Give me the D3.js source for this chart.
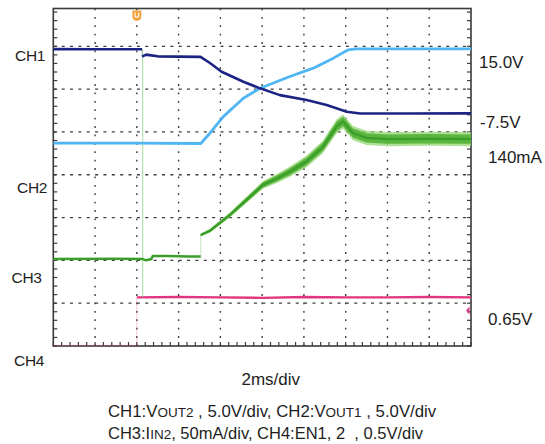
<!DOCTYPE html>
<html><head><meta charset="utf-8">
<script src="https://cdn.jsdelivr.net/npm/d3@7"></script>
<style>
html,body{margin:0;padding:0;background:#fff;}
svg{display:block;font-family:"Liberation Sans",Arial,Helvetica,sans-serif;}
text{white-space:pre;}
</style></head><body>
<svg id="c" width="545" height="444"></svg>
<script>
// ---------------- data ----------------
const timeDomainMs = [-4, 16];          // 10 divisions, 2 ms/div, trigger at 0
const xDivisions = d3.range(0, 11);
const yDivisions = d3.range(0, 9);

// CH1: VOUT2 (V), 5 V/div
const ch1TimeMs = [-4, -2, 0.25, 0.25, 0.45, 0.6, 1.0, 2.0, 3.05, 3.5, 4.06, 5.10, 5.90, 6.85, 8.13, 9.09, 10.05, 10.69, 13, 16];
const ch1Volts  = [0.02, 0, 0.01, -0.85, -0.62, -0.68, -0.82, -0.86, -0.88, -1.6, -2.62, -3.79, -4.56, -5.35, -5.93, -6.51, -7.30, -7.49, -7.5, -7.48];

// CH2: VOUT1 (V), 5 V/div
const ch2TimeMs = [-4, 0, 3.06, 3.5, 4.14, 5.10, 5.90, 7.33, 8.45, 9.41, 10.12, 10.5, 13, 16];
const ch2Volts  = [4.0, 4.0, 3.95, 5.15, 7.09, 9.24, 10.41, 11.77, 12.75, 13.92, 14.89, 15.0, 15.0, 15.0];

// CH3: IIN2 (mA), 50 mA/div
const ch3TimeMs    = [-4, -1, 0.28, 0.45, 0.7, 0.76, 1.5, 2.5, 3.06, 3.06, 3.5, 4.46, 5.2, 6.04, 6.7, 7.33, 8.13, 8.91, 9.57, 9.87, 10.35, 11.0, 12, 14, 16];
const ch3MilliAmps = [0, 0.3, 0, -1.5, 0, 3.5, 3.5, 3, 3, 28, 33, 51.5, 68, 86.5, 94, 102, 114, 131, 155, 160.6, 147, 141.5, 140, 140.5, 140];
const ch3NoiseMa   = [1, 1, 1, 1, 1, 1, 1, 1, 1, 1.2, 1.5, 2, 2.5, 3, 3.5, 4, 4.5, 5, 5.5, 5.5, 5.5, 5.5, 5.5, 5.5, 5.5];
const ch3SpikeTimeMs = 0.28;
const ch3SpikeMa = [245, -45];

// CH4: EN1,2 (V), 0.5 V/div
const ch4TimeMs = [-4, 0, 0, 2, 4, 6, 8, 10, 12, 14, 16];
const ch4Volts  = [0, 0, 0.65, 0.655, 0.65, 0.645, 0.655, 0.65, 0.65, 0.655, 0.65];

const channelLabels = ["CH1", "CH2", "CH3", "CH4"];
const levelLabels = ["15.0V", "-7.5V", "140mA", "0.65V"];
const timebaseLabel = "2ms/div";

// ---------------- layout ----------------
const svg = d3.select("#c");
const L = 53.3, R = 471, T = 8.5, B = 346;
const x = d3.scaleLinear().domain(timeDomainMs).range([L, R]);
const xDiv = d3.scaleLinear().domain([0, 10]).range([L, R]);
const yDiv = d3.scaleLinear().domain([0, 8]).range([B, 3.5]);

function chScale(perDiv, groundDiv) {
  return d3.scaleLinear().domain([0, perDiv]).range([yDiv(groundDiv), yDiv(groundDiv + 1)]);
}
const y1 = chScale(5, 6.93);
const y2 = chScale(5, 3.94);
const y3 = chScale(50, 2.032);
const y4 = chScale(0.5, -0.165);

const gridColor = "#3c3c3c";

// gridlines
const g = svg.append("g");
g.selectAll(".vg").data(xDivisions.slice(1, -1)).join("line")
  .attr("x1", d => xDiv(d)).attr("x2", d => xDiv(d))
  .attr("y1", T).attr("y2", B)
  .attr("stroke", gridColor).attr("stroke-width", 1.4)
  .attr("stroke-dasharray", "1.8,6.6");
g.selectAll(".hg").data(yDivisions.slice(1, -1)).join("line")
  .attr("x1", L).attr("x2", R)
  .attr("y1", d => yDiv(d)).attr("y2", d => yDiv(d))
  .attr("stroke", gridColor).attr("stroke-width", 1.3)
  .attr("stroke-dasharray", "3,5.36");

// minor ticks on frame
const minorY = d3.range(0, 8.01, 0.2).filter(d => yDiv(d) > T + 2);
const minorX = d3.range(0, 10.01, 0.2);
g.selectAll(".tl").data(minorY).join("line")
  .attr("x1", L).attr("x2", L + 4).attr("y1", d => yDiv(d)).attr("y2", d => yDiv(d))
  .attr("stroke", gridColor).attr("stroke-width", 1.2);
g.selectAll(".tr").data(minorY).join("line")
  .attr("x1", R).attr("x2", R - 4).attr("y1", d => yDiv(d)).attr("y2", d => yDiv(d))
  .attr("stroke", gridColor).attr("stroke-width", 1.2);
g.selectAll(".tb").data(minorX).join("line")
  .attr("x1", d => xDiv(d)).attr("x2", d => xDiv(d)).attr("y1", B).attr("y2", B - 4)
  .attr("stroke", gridColor).attr("stroke-width", 1.2);

// frame
svg.append("rect").attr("x", L).attr("y", T).attr("width", R - L).attr("height", B - T)
  .attr("fill", "none").attr("stroke", "#3a3a3a").attr("stroke-width", 1.6);

// ---------------- traces ----------------
const clampY = v => Math.max(T + 1, Math.min(B - 0.5, v));
const lineGen = d3.line();

function drawTrace(times, vals, ys, color, width) {
  const pts = times.map((t, i) => [x(t), clampY(ys(vals[i])), ys(vals[i]) !== clampY(ys(vals[i]))]);
  const segs = []; const jumps = [];
  let seg = [pts[0]];
  for (let i = 1; i < pts.length; i++) {
    if (times[i] === times[i - 1]) { segs.push(seg); jumps.push([pts[i - 1], pts[i]]); seg = [pts[i]]; }
    else seg.push(pts[i]);
  }
  segs.push(seg);
  svg.append("g").selectAll("path").data(jumps).join("path")
    .attr("d", lineGen).attr("fill", "none").attr("stroke", color)
    .attr("stroke-width", 1).attr("opacity", 0.28);
  svg.append("g").selectAll("path").data(segs).join("path")
    .attr("d", lineGen).attr("fill", "none").attr("stroke", color)
    .attr("stroke-width", s => s.every(p => p[2]) ? 1 : width)
    .attr("opacity", s => s.every(p => p[2]) ? 0.35 : 1)
    .attr("stroke-linejoin", "round");
}

// CH4
drawTrace(ch4TimeMs, ch4Volts, y4, "#e0357f", 2.4);

// CH3 spike (faint)
svg.append("path")
  .attr("d", lineGen(ch3SpikeMa.map(v => [x(ch3SpikeTimeMs), clampY(y3(v))])))
  .attr("stroke", "#7fcf78").attr("stroke-width", 1).attr("opacity", 0.7).attr("fill", "none");

// CH3 noise band
const ch3Pts = ch3TimeMs.map((t, i) => ({t, v: ch3MilliAmps[i], n: ch3NoiseMa[i], i}));
const bandPts = ch3Pts.filter((p, i) => i >= 9);
const area = k => d3.area().x(p => x(p.t)).y0(p => y3(p.v - p.n * k)).y1(p => y3(p.v + p.n * k));
svg.append("path").attr("d", area(1.5)(bandPts)).attr("fill", "#93d673").attr("opacity", 0.75);
svg.append("path").attr("d", area(1.0)(bandPts)).attr("fill", "#5ab63e");
drawTrace(ch3TimeMs, ch3MilliAmps, y3, "#3c9e2a", 2.4);

// CH2, CH1
drawTrace(ch2TimeMs, ch2Volts, y2, "#4fb5f3", 2.8);
drawTrace(ch1TimeMs, ch1Volts, y1, "#1c2483", 2.6);

// trigger marker
const tx = x(0);
svg.append("path")
  .attr("d", `M${tx - 4.5},10.5 h9 v5.5 q0,4.5 -4.5,4.8 q-4.5,-0.3 -4.5,-4.8 z`)
  .attr("fill", "#f0a23c");
svg.append("path")
  .attr("d", `M${tx - 1.8},12.5 v4 q1.8,1.6 3.6,0 v-4`)
  .attr("fill", "none").attr("stroke", "#fff").attr("stroke-width", 1.1);

// CH4 level marker on right
svg.append("path").attr("d", `M${R - 5},310.5 L${R - 1.5},306.5 L${R - 1.5},314.5 Z`).attr("fill", "#d93a86");

// ---------------- text ----------------
const txtColor = "#1e1e1e";
const chPos = [[15, 60.5], [17, 192.5], [11.5, 282.5], [14, 366]];
svg.append("g").selectAll("text").data(channelLabels).join("text")
  .attr("x", (d, i) => chPos[i][0]).attr("y", (d, i) => chPos[i][1])
  .attr("font-size", 15.5).attr("fill", txtColor).attr("letter-spacing", -0.3).text(d => d);

const lvPos = [[479, 68], [480, 128], [488, 163], [488, 325]];
svg.append("g").selectAll("text").data(levelLabels).join("text")
  .attr("x", (d, i) => lvPos[i][0]).attr("y", (d, i) => lvPos[i][1])
  .attr("font-size", 17).attr("fill", txtColor).text(d => d);

svg.append("text").attr("x", 241.5).attr("y", 385).attr("font-size", 17)
  .attr("fill", txtColor).text(timebaseLabel);

// caption with small-caps subscripts
const captionLines = [
  [["CH1:V", 0], ["OUT2", 1], [" , 5.0V/div, CH2:V", 0], ["OUT1", 1], [" , 5.0V/div", 0]],
  [["CH3:I", 0], ["IN2", 1], [", 50mA/div, CH4:EN1, 2  , 0.5V/div", 0]]
];
const capY = [416.5, 439];
const capSize = [16.8, 16.5];
captionLines.forEach((parts, li) => {
  const t = svg.append("text").attr("x", 108).attr("y", capY[li]).attr("font-size", capSize[li]).attr("fill", txtColor);
  parts.forEach(([s, small]) => {
    t.append("tspan").attr("font-size", small ? 13.5 : capSize[li]).text(s);
  });
});
</script>
</body></html>
